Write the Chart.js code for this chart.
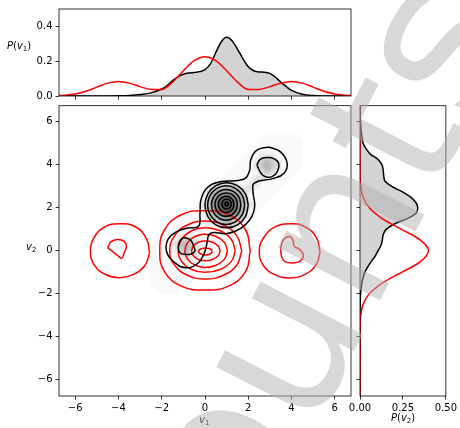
<!DOCTYPE html>
<html><head><meta charset="utf-8">
<script src="https://cdn.jsdelivr.net/npm/chart.js@4.4.1/dist/chart.umd.min.js"></script>
<style>
html,body{margin:0;padding:0;background:#fff;}
#wrap{position:relative;width:460px;height:428px;overflow:hidden;background:#fff;}
#wrap canvas{position:absolute;left:0;top:0;}
.lbl{position:absolute;font-family:"DejaVu Sans",sans-serif;font-size:10px;color:#000;white-space:nowrap;line-height:12px;}
.lbl i{font-style:italic;}
.lbl sub{font-size:7px;vertical-align:-2px;line-height:0;}
</style></head>
<body><div id="wrap">
<canvas id="cMain" width="460" height="428"></canvas>
<canvas id="cTop" width="460" height="428"></canvas>
<canvas id="cRight" width="460" height="428"></canvas>
<div class="lbl" style="left:7px;top:40px"><i>P</i>(<i>v</i><sub>1</sub>)</div>
<div class="lbl" style="left:26px;top:241px"><i>v</i><sub>2</sub></div>
<div class="lbl" style="left:199px;top:414px"><i>v</i><sub>1</sub></div>
<div class="lbl" style="left:391px;top:412px"><i>P</i>(<i>v</i><sub>2</sub>)</div>
<canvas id="cMark" width="460" height="428"></canvas>
</div>
<script>
// ---------- data ----------
const v1Ticks = [-6,-4,-2,0,2,4,6];
const v1Labels = ['\u22126','\u22124','\u22122','0','2','4','6'];
const v2Ticks = [-6,-4,-2,0,2,4,6];
const v2Labels = ['\u22126','\u22124','\u22122','0','2','4','6'];
const pTopTicks = [0,0.2,0.4];
const pTopLabels = ['0.0','0.2','0.4'];
const pRightTicks = [0,0.25,0.5];
const pRightLabels = ['0.00','0.25','0.50'];
const watermarkText = 'Counts';

// top marginal P(v1)
const topX = [-7,-6,-5,-4,-3.5,-3,-2.5,-2,-1.75,-1.5,-1.25,-1,-0.75,-0.5,-0.25,0,0.25,0.5,0.75,1,1.25,1.5,1.75,2,2.25,2.5,2.75,3,3.25,3.5,3.75,4,4.5,5,6,7];
const topBlack = [0,0,0,0.001,0.003,0.008,0.018,0.04,0.06,0.088,0.11,0.125,0.132,0.135,0.14,0.152,0.185,0.25,0.31,0.337,0.318,0.27,0.215,0.168,0.145,0.138,0.137,0.13,0.108,0.08,0.055,0.032,0.01,0.003,0,0];
const topRedX = [-7,-6.5,-6,-5.5,-5,-4.5,-4,-3.5,-3,-2.5,-2,-1.5,-1,-0.5,0,0.5,1,1.5,2,2.5,3,3.5,4,4.5,5,5.5,6,6.5,7];
const topRed = [0.001,0.004,0.011,0.027,0.051,0.074,0.084,0.074,0.054,0.038,0.038,0.08,0.145,0.203,0.226,0.203,0.145,0.08,0.038,0.038,0.054,0.074,0.084,0.074,0.051,0.027,0.011,0.004,0.001];

// right marginal P(v2)
const rightV2 = [7,6.5,6,5.5,5,4.75,4.5,4.25,4,3.75,3.5,3.25,3,2.75,2.5,2.25,2,1.75,1.5,1.25,1,0.75,0.5,0.25,0,-0.25,-0.5,-0.75,-1,-1.25,-1.5,-2,-2.5,-3,-7];
const rightBlack = [0,0.001,0.003,0.008,0.018,0.035,0.06,0.105,0.128,0.135,0.138,0.145,0.185,0.245,0.295,0.325,0.336,0.327,0.275,0.2,0.152,0.135,0.13,0.122,0.105,0.088,0.065,0.045,0.028,0.018,0.011,0.003,0.001,0,0];
const rightRedV2 = [7,4,3.5,3,2.5,2,1.5,1,0.5,0,-0.5,-1,-1.5,-2,-2.5,-3,-3.5,-4,-7];
const rightRed = [0,0.0001,0.0009,0.0044,0.0175,0.054,0.1295,0.242,0.352,0.399,0.352,0.242,0.1295,0.054,0.0175,0.0044,0.0009,0.0001,0];

// 2D histogram (shade levels 0-9), bins of 0.25 starting v1=-2.5 (left), v2=5.5 (top)
const histV1Start = -2.5, histV2Start = 5.5, histBin = 0.25;
const histRows = [
"0000000000000000000001111110",
"0000000000000000000011111111",
"0000000000000000000111111111",
"0000000000000000001111111111",
"0000000000000000011122211111",
"0000000000000000111234321111",
"0000000000000001111234321111",
"0000000000000011111123211110",
"0000000000000111111221111100",
"0000000000112222112211111000",
"0000000001234444322111110000",
"0000000001245665421111100000",
"0000000001357887531111000000",
"0000000012357997532110000000",
"0000000111357887531100000000",
"0000001111245665421000000000",
"0000011111123443210000000000",
"0000111111112222100000000000",
"0001111111111111000000000000",
"0011122211111110000000000000",
"0111234321111100000000000000",
"1111234321111000000000000000",
"1111123221110000000000000000",
"1111112111100000000000000000",
"1111111111000000000000000000",
"1111111110000000000000000000",
"1111111100000000000000000000",
"1111111000000000000000000000",
"1111110000000000000000000000",
"0111100000000000000000000000"
];
const histAlpha = [0,0.025,0.12,0.2,0.29,0.38,0.47,0.56,0.65,0.74];

// contours (flat x,y lists, closed)
const redContours = [
 [0.33,-0.02, 0.29,0.055, 0.175,0.11, 0.02,0.13, -0.135,0.11, -0.25,0.055, -0.29,-0.02, -0.25,-0.105, -0.135,-0.167, 0.02,-0.19, 0.175,-0.167, 0.29,-0.105],
 [0.70,0, 0.606,0.23, 0.35,0.40, 0,0.46, -0.31,0.40, -0.537,0.23, -0.62,0, -0.537,-0.23, -0.31,-0.40, 0,-0.46, 0.35,-0.40, 0.606,-0.23],
 [1.04,0, 0.90,0.385, 0.52,0.667, 0,0.77, -0.465,0.667, -0.805,0.385, -0.93,0, -0.805,-0.385, -0.465,-0.667, 0,-0.77, 0.52,-0.667, 0.90,-0.385],
 [1.40,0, 1.212,0.54, 0.70,0.935, 0,1.08, -0.62,0.935, -1.074,0.54, -1.24,0, -1.074,-0.50, -0.62,-0.866, 0,-1.0, 0.70,-0.866, 1.212,-0.50],
 [1.70,0, 1.472,0.695, 0.85,1.204, 0,1.39, -0.815,1.204, -1.412,0.695, -1.63,0, -1.412,-0.655, -0.815,-1.134, 0,-1.31, 0.85,-1.134, 1.472,-0.655],
 [2.09,0, 1.88,0.97, 1.09,1.68, 0,1.87, -1.09,1.68, -1.88,0.97, -2.09,0, -1.88,-0.95, -1.09,-1.64, 0,-1.82, 1.09,-1.64, 1.88,-0.95],
 [-2.56,-0.1, -2.70,0.55, -3.22,1.12, -3.98,1.26, -4.65,1.10, -5.13,0.62, -5.30,0.0, -5.12,-0.65, -4.60,-1.10, -3.95,-1.25, -3.27,-1.08, -2.78,-0.68],
 [-4.50,0.14, -4.35,0.42, -4.05,0.53, -3.75,0.45, -3.63,0.22, -3.72,-0.05, -3.85,-0.35, -4.0,-0.25, -4.25,-0.05],
 [5.32,-0.05, 5.15,0.62, 4.62,1.12, 3.95,1.26, 3.22,1.10, 2.72,0.62, 2.51,0.0, 2.70,-0.68, 3.25,-1.12, 3.95,-1.26, 4.65,-1.08, 5.15,-0.62],
 [3.50,0.06, 3.58,0.45, 3.75,0.63, 3.97,0.64, 4.08,0.45, 4.12,0.22, 4.40,0.05, 4.55,-0.22, 4.40,-0.48, 4.05,-0.56, 3.70,-0.50, 3.55,-0.30]
];
const blackContours = [
 [2.94,4.83, 3.49,4.60, 3.80,4.06, 3.64,3.60, 3.18,3.37, 2.28,3.15, 2.22,2.75, 2.30,2.10, 2.17,1.60, 1.86,1.21, 1.40,0.91, 0.93,0.80, 0.40,0.85, 0.18,0.75, 0.10,0.40, -0.05,-0.15, -0.35,-0.60, -0.85,-0.79, -1.40,-0.55, -1.78,-0.02, -1.70,0.55, -1.32,0.88, -0.78,1.06, -0.30,1.14, -0.23,1.75, -0.18,2.40, 0.15,2.98, 0.70,3.21, 1.78,3.33, 2.05,3.70, 2.12,4.25, 2.40,4.68],
 [1.08,2.18, 1.04,2.253, 0.96,2.253, 0.92,2.18, 0.96,2.107, 1.04,2.107],
 [1.22,2.18, 1.19,2.295, 1.11,2.38, 1.0,2.41, 0.89,2.38, 0.81,2.295, 0.78,2.18, 0.81,2.065, 0.89,1.98, 1.0,1.95, 1.11,1.98, 1.19,2.065],
 [1.34,2.16, 1.292,2.349, 1.16,2.487, 0.98,2.538, 0.80,2.487, 0.668,2.349, 0.62,2.16, 0.668,1.971, 0.80,1.833, 0.98,1.782, 1.16,1.833, 1.292,1.971],
 [1.50,2.15, 1.43,2.423, 1.24,2.623, 0.98,2.696, 0.72,2.623, 0.53,2.423, 0.46,2.15, 0.53,1.877, 0.72,1.677, 0.98,1.604, 1.24,1.677, 1.43,1.877],
 [1.66,2.14, 1.569,2.497, 1.32,2.758, 0.98,2.854, 0.64,2.758, 0.391,2.497, 0.30,2.14, 0.391,1.783, 0.64,1.522, 0.98,1.426, 1.32,1.522, 1.569,1.783],
 [1.84,2.13, 1.725,2.58, 1.41,2.909, 0.98,3.03, 0.55,2.909, 0.235,2.58, 0.12,2.13, 0.235,1.68, 0.55,1.351, 0.98,1.23, 1.41,1.351, 1.725,1.68],
 [2.0,2.12, 1.866,2.645, 1.5,3.029, 1.0,3.17, 0.5,3.029, 0.134,2.645, 0.0,2.12, 0.134,1.595, 0.5,1.211, 1.0,1.07, 1.5,1.211, 1.866,1.595],
 [2.40,3.99, 2.55,4.25, 2.87,4.34, 3.20,4.28, 3.41,4.06, 3.35,3.70, 3.10,3.45, 2.80,3.45, 2.60,3.60],
 [-1.24,0.21, -1.15,0.48, -1.01,0.60, -0.75,0.55, -0.62,0.44, -0.50,0.15, -0.47,-0.02, -0.65,-0.15, -0.85,-0.17, -1.16,-0.09]
];

// ---------- helpers ----------
Chart.defaults.font.family = "'DejaVu Sans', sans-serif";
Chart.defaults.font.size = 10;
Chart.defaults.color = '#000';

const pts = (xs, ys) => xs.map((x, i) => ({x: x, y: ys[i]}));
const ptsV = (vs, ps) => vs.map((v, i) => ({x: ps[i], y: v}));
const ring = (a) => { const o = []; for (let i = 0; i < a.length; i += 2) o.push({x: a[i], y: a[i+1]}); o.push({x: a[0], y: a[1]}); return o; };

const framePlugin = {id: 'frame', afterDraw(c) {
  const a = c.chartArea, ctx = c.ctx; ctx.save();
  ctx.strokeStyle = '#000'; ctx.lineWidth = 0.8;
  ctx.strokeRect(a.left, a.top, a.right - a.left, a.bottom - a.top); ctx.restore();
}};

function axis(min, max, ticks, labels, extra) {
  return Object.assign({
    type: 'linear', min: min, max: max,
    afterBuildTicks: s => { s.ticks = ticks.map(v => ({value: v})); },
    ticks: {display: !!labels, padding: 3, autoSkip: false, maxRotation: 0, minRotation: 0,
      color: '#000', font: {size: 10},
      callback: v => { const i = ticks.indexOf(v); return labels ? labels[i] : ''; }},
    grid: {drawOnChartArea: false, drawTicks: true, tickLength: 3.5, color: '#000', lineWidth: 0.8, tickWidth: 0.8},
    border: {display: false}
  }, extra);
}
const baseOpts = (pad, scales) => ({
  responsive: false, animation: false, events: [],
  layout: {padding: pad},
  plugins: {legend: {display: false}, tooltip: {enabled: false}},
  scales: scales
});
const lineDs = (data, color, extra) => Object.assign({data: data, showLine: true, borderColor: color,
  borderWidth: 1.5, pointRadius: 0, fill: false}, extra);

// ---------- 2D histogram plugin (cells placed through the scales, bilinear smoothed) ----------
const histPlugin = {id: 'hist', beforeDatasetsDraw(c) {
  const a = c.chartArea, ctx = c.ctx, xs = c.scales.x, ys = c.scales.y;
  const nr = histRows.length, nc = histRows[0].length;
  const small = document.createElement('canvas'); small.width = nc; small.height = nr;
  const sc = small.getContext('2d');
  const img = sc.createImageData(nc, nr);
  for (let i = 0; i < nr; i++) for (let j = 0; j < nc; j++) {
    const k = (i * nc + j) * 4;
    img.data[k] = 0; img.data[k+1] = 0; img.data[k+2] = 0;
    img.data[k+3] = Math.round(histAlpha[+histRows[i][j]] * 255);
  }
  sc.putImageData(img, 0, 0);
  const x0 = xs.getPixelForValue(histV1Start), x1 = xs.getPixelForValue(histV1Start + nc * histBin);
  const y0 = ys.getPixelForValue(histV2Start), y1 = ys.getPixelForValue(histV2Start - nr * histBin);
  ctx.save(); ctx.beginPath(); ctx.rect(a.left, a.top, a.right - a.left, a.bottom - a.top); ctx.clip();
  ctx.imageSmoothingEnabled = true; ctx.imageSmoothingQuality = 'high';
  ctx.drawImage(small, 0, 0, nc, nr, x0, y0, x1 - x0, y1 - y0);
  ctx.restore();
}};

// ---------- main chart ----------
const mainSets = [];
redContours.forEach(r => mainSets.push(lineDs(ring(r), '#ff0000', {tension: 0.45, order: 2})));
blackContours.forEach(r => mainSets.push(lineDs(ring(r), '#000000', {tension: 0.45, order: 1})));
new Chart(document.getElementById('cMain'), {
  type: 'scatter', data: {datasets: mainSets},
  options: baseOpts({left: 0, top: 105.7, right: 109, bottom: 0}, {
    x: axis(-6.75, 6.75, v1Ticks, v1Labels, {afterFit: s => { s.height = 32; }}),
    y: axis(-6.75, 6.75, v2Ticks, v2Labels, {afterFit: s => { s.width = 59; }})
  }),
  plugins: [histPlugin, framePlugin]
});

// ---------- top marginal ----------
new Chart(document.getElementById('cTop'), {
  type: 'scatter', data: {datasets: [
    lineDs(pts(topX, topBlack), '#000000', {fill: 'origin', backgroundColor: '#d3d3d3', cubicInterpolationMode: 'monotone', order: 2}),
    lineDs(pts(topRedX, topRed), '#ff0000', {cubicInterpolationMode: 'monotone', order: 1})
  ]},
  options: baseOpts({left: 0, top: 6, right: 109, bottom: 0}, {
    x: axis(-6.75, 6.75, v1Ticks, null, {afterFit: s => { s.height = 332; }}),
    y: axis(0, 0.5, pTopTicks, pTopLabels, {afterFit: s => { s.width = 59; }})
  }),
  plugins: [framePlugin]
});

// ---------- right marginal ----------
new Chart(document.getElementById('cRight'), {
  type: 'scatter', data: {datasets: [
    lineDs(ptsV(rightV2, rightBlack), '#000000', {fill: 'shape', backgroundColor: '#d3d3d3', tension: 0.35, order: 2}),
    lineDs(ptsV(rightRedV2, rightRed), '#ff0000', {tension: 0.35, order: 1})
  ]},
  options: baseOpts({left: 0, top: 105.7, right: 11, bottom: 0}, {
    x: axis(0, 0.5, pRightTicks, pRightLabels, {afterFit: s => { s.height = 32; }}),
    y: axis(-6.75, 6.75, v2Ticks, null, {afterFit: s => { s.width = 360; }})
  }),
  plugins: [framePlugin]
});

// ---------- watermark ----------
(function () {
  const ctx = document.getElementById('cMark').getContext('2d');
  ctx.save();
  ctx.translate(184, 680);
  ctx.rotate(-62.7 * Math.PI / 180);
  ctx.font = "210px 'DejaVu Sans'";
  ctx.fillStyle = 'rgba(178,178,178,0.5)';
  ctx.textBaseline = 'alphabetic';
  ctx.fillText(watermarkText, 0, 0);
  ctx.restore();
})();
</script>
</body></html>
